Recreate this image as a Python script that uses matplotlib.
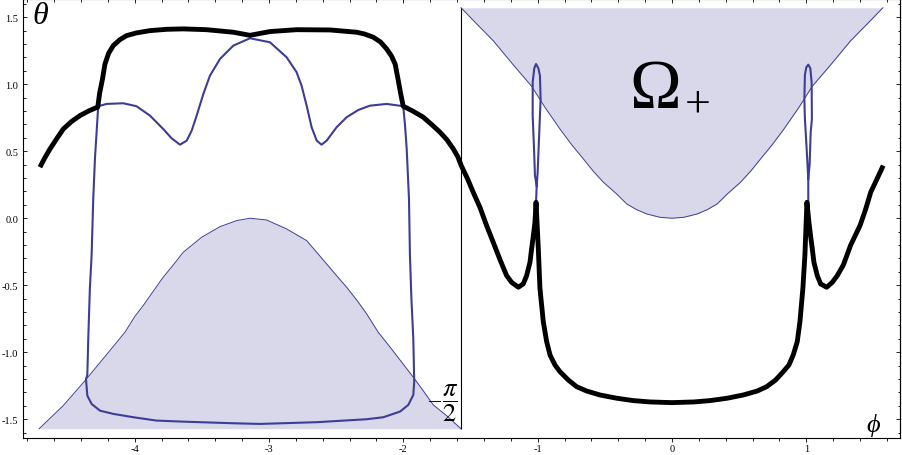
import numpy as np
import matplotlib
matplotlib.use('Agg')
import matplotlib.pyplot as plt
from matplotlib.ticker import MultipleLocator, FormatStrFormatter

plt.rcParams['font.family'] = ['Liberation Serif', 'DejaVu Serif']
plt.rcParams['axes.unicode_minus'] = False
plt.rcParams['mathtext.fontset'] = 'stix'

HALF_PI = np.pi / 2

# thick black curve
black_x = [-4.706, -4.670, -4.631, -4.580, -4.532, -4.470, -4.408, -4.340, -4.275,
           -4.262, -4.240, -4.222, -4.195, -4.160, -4.110, -4.060, -3.987, -3.887,
           -3.760, -3.639, -3.465, -3.266, -3.142, -2.993, -2.795, -2.547, -2.348,
           -2.290, -2.224, -2.170, -2.124, -2.088, -2.061, -2.040, -2.020, -2.001,
           -1.930, -1.852, -1.790, -1.727, -1.675, -1.628, -1.595, -1.569, -1.520,
           -1.480, -1.430, -1.380, -1.331, -1.280, -1.231, -1.194, -1.144, -1.107,
           -1.082, -1.057, -1.045, -1.032, -1.020, -1.012, -0.995, -0.983, -0.958,
           -0.933, -0.908, -0.871, -0.834, -0.772, -0.710, -0.636, -0.536, -0.412,
           -0.288, -0.164, 0.0, 0.164, 0.283, 0.412, 0.531, 0.636, 0.705, 0.772,
           0.829, 0.871, 0.903, 0.933, 0.953, 0.975, 0.990, 1.005, 1.020, 1.032,
           1.045, 1.057, 1.082, 1.107, 1.152, 1.194, 1.231, 1.276, 1.331, 1.400,
           1.440, 1.480, 1.530, 1.573]
black_y = [0.381, 0.450, 0.517, 0.595, 0.666, 0.722, 0.766, 0.802, 0.830,
           0.930, 1.040, 1.150, 1.230, 1.288, 1.333, 1.363, 1.383, 1.400,
           1.410, 1.413, 1.407, 1.388, 1.365, 1.393, 1.407, 1.405, 1.388,
           1.375, 1.351, 1.315, 1.263, 1.210, 1.150, 1.040, 0.930, 0.836,
           0.800, 0.754, 0.700, 0.642, 0.585, 0.517, 0.460, 0.393, 0.290,
           0.194, 0.082, -0.055, -0.179, -0.310, -0.428, -0.478, -0.515, -0.490,
           -0.428, -0.328, -0.229, -0.130, -0.030, 0.119, -0.229, -0.522, -0.772,
           -0.921, -1.020, -1.095, -1.145, -1.207, -1.257, -1.289, -1.319, -1.343,
           -1.361, -1.371, -1.376, -1.371, -1.361, -1.343, -1.319, -1.289, -1.257, -1.207,
           -1.145, -1.095, -1.020, -0.921, -0.772, -0.522, -0.274, 0.119, -0.030, -0.130,
           -0.229, -0.328, -0.428, -0.490, -0.515, -0.478, -0.428, -0.349, -0.200, -0.055,
           0.060, 0.194, 0.300, 0.393]

# blue closed loop (left half)
loop_x = [-4.272, -4.209, -4.086, -3.987, -3.887, -3.788, -3.726, -3.663, -3.613,
          -3.576, -3.539, -3.489, -3.440, -3.365, -3.266, -3.142, -2.993, -2.869,
          -2.795, -2.758, -2.720, -2.683, -2.645, -2.609, -2.571, -2.497, -2.422,
          -2.335, -2.249, -2.124, -2.001, -1.988, -1.975, -1.958, -1.951, -1.940,
          -1.926, -1.919, -1.926, -1.963, -2.025, -2.149, -2.273, -2.645, -3.067,
          -3.266, -3.639, -3.838, -4.011, -4.160, -4.259, -4.321, -4.353, -4.363,
          -4.353, -4.346, -4.334, -4.321, -4.309, -4.296, -4.284, -4.272]
loop_y = [0.836, 0.853, 0.858, 0.836, 0.766, 0.666, 0.597, 0.549, 0.579,
          0.654, 0.766, 0.928, 1.064, 1.189, 1.288, 1.343, 1.313, 1.201,
          1.090, 0.990, 0.840, 0.679, 0.579, 0.549, 0.579, 0.679, 0.754,
          0.808, 0.840, 0.853, 0.836, 0.700, 0.517, 0.144, -0.274, -0.600,
          -0.896, -1.219, -1.319, -1.393, -1.443, -1.485, -1.500, -1.522, -1.535,
          -1.530, -1.518, -1.510, -1.485, -1.460, -1.436, -1.386, -1.324, -1.200,
          -1.169, -0.896, -0.522, -0.274, 0.144, 0.450, 0.642, 0.836]

# blue narrow spikes near phi = -1 and phi = 1
spike_l_x = [-1.012, -1.007, -1.020, -1.027, -1.037, -1.037, -1.025, -1.012,
             -0.995, -0.983, -0.978, -0.988, -1.000, -1.007]
spike_l_y = [0.119, 0.243, 0.318, 0.517, 0.766, 1.015, 1.120, 1.151,
             1.120, 1.065, 0.890, 0.642, 0.343, 0.243]
spike_r_x = [1.015, 1.015, 1.003, 0.990, 0.986, 0.990, 1.000, 1.015,
             1.030, 1.040, 1.042, 1.033, 1.025, 1.015]
spike_r_y = [0.107, 0.293, 0.517, 0.740, 0.890, 1.070, 1.125, 1.146,
             1.120, 1.015, 0.740, 0.642, 0.400, 0.293]

# shaded region below (left) and Omega_+ (right)
lower_x = [-4.712, -4.532, -4.370, -4.220, -4.073, -4.000, -3.937, -3.862,
           -3.788, -3.710, -3.639, -3.502, -3.365, -3.242, -3.142, -3.018,
           -2.869, -2.720, -2.571, -2.500, -2.422, -2.340, -2.273, -2.187,
           -2.100, -2.000, -1.920, -1.850, -1.777, -1.670, -1.571]
lower_y = [-1.571, -1.398, -1.212, -1.030, -0.851, -0.734, -0.652, -0.545,
           -0.440, -0.345, -0.254, -0.142, -0.063, -0.018, 0.0, -0.013,
           -0.080, -0.167, -0.341, -0.425, -0.515, -0.620, -0.714, -0.851,
           -0.960, -1.090, -1.194, -1.290, -1.393, -1.480, -1.571]
omega_x = [-1.571, -1.454, -1.331, -1.182, -1.045, -0.946, -0.834, -0.747,
           -0.660, -0.586, -0.511, -0.412, -0.337, -0.263, -0.188, -0.089, 0.0,
           0.089, 0.188, 0.263, 0.337, 0.412, 0.511, 0.586, 0.660, 0.747,
           0.834, 0.946, 1.045, 1.182, 1.331, 1.454, 1.571]
omega_y = [1.571, 1.450, 1.325, 1.145, 0.985, 0.828, 0.666, 0.549,
           0.443, 0.351, 0.269, 0.181, 0.107, 0.064, 0.032, 0.007, 0.0,
           0.007, 0.032, 0.064, 0.107, 0.181, 0.269, 0.351, 0.443, 0.549,
           0.666, 0.828, 0.985, 1.145, 1.325, 1.450, 1.571]

blue = (0.24, 0.24, 0.6)

fig = plt.figure(figsize=(9.03, 4.56), dpi=100)
ax = fig.add_axes([23 / 903, 17 / 456, 877 / 903, 439 / 456])

ax.fill_between(lower_x, lower_y, -HALF_PI, color=blue, alpha=0.2, lw=0)
ax.fill_between(omega_x, omega_y, HALF_PI, color=blue, alpha=0.2, lw=0)
ax.plot(lower_x, lower_y, color=blue, lw=0.7)
ax.plot(omega_x, omega_y, color=blue, lw=0.7)
ax.vlines(-HALF_PI, -HALF_PI, HALF_PI, color='black', lw=0.8)

ax.plot(loop_x, loop_y, color=blue, lw=1.5, solid_joinstyle='round')
ax.plot(spike_l_x, spike_l_y, color=blue, lw=1.5, solid_joinstyle='round')
ax.plot(spike_r_x, spike_r_y, color=blue, lw=1.5, solid_joinstyle='round')
ax.plot(black_x, black_y, color='black', lw=3.5, solid_joinstyle='round',
        solid_capstyle='butt')

ax.set_xlim(-4.832, 1.698)
ax.set_ylim(-1.640, 1.636)

# ticks
ax.xaxis.set_major_locator(MultipleLocator(1))
ax.xaxis.set_minor_locator(MultipleLocator(0.2))
ax.yaxis.set_major_locator(MultipleLocator(0.5))
ax.yaxis.set_minor_locator(MultipleLocator(0.1))
ax.xaxis.set_major_formatter(FormatStrFormatter('%d'))
ax.yaxis.set_major_formatter(FormatStrFormatter('%.1f'))
ax.tick_params(axis='x', which='both', direction='out', top=False, pad=1.5,
               labelsize=7.5, width=0.6)
ax.tick_params(axis='y', which='both', direction='in', right=False, pad=3.5,
               labelsize=7.5, width=0.6)
ax.tick_params(which='major', length=3)
ax.tick_params(which='minor', length=1.8)

top = ax.secondary_xaxis('top')
top.xaxis.set_major_locator(MultipleLocator(1))
top.xaxis.set_minor_locator(MultipleLocator(0.2))
top.tick_params(which='both', direction='in', labeltop=False, width=0.6)
top.tick_params(which='major', length=3)
top.tick_params(which='minor', length=1.8)
right = ax.secondary_yaxis('right')
right.yaxis.set_major_locator(MultipleLocator(0.5))
right.yaxis.set_minor_locator(MultipleLocator(0.1))
right.tick_params(which='both', direction='in', labelright=False, width=0.6)
right.tick_params(which='major', length=3)
right.tick_params(which='minor', length=1.8)

for s in ax.spines.values():
    s.set_linewidth(0.8)

# labels
ax.text(-4.706, 1.510, '\u03b8', fontsize=23, style='italic', ha='center', va='center')
ax.text(1.497, -1.537, '\u03d5', fontsize=19, style='italic', ha='center', va='center')
ax.text(-0.127, 0.831, '\u03a9', fontsize=50, ha='center', va='baseline')
ax.text(0.194, 0.847, '+', fontsize=33, ha='center', va='center')
ax.text(-1.770, -1.362, '\u2013', fontsize=17, ha='center', va='center')
ax.text(-1.650, -1.371, r'$\dfrac{\pi}{2}$', fontsize=19, ha='center', va='center')

fig.savefig('out.png', dpi=100, facecolor='white')
